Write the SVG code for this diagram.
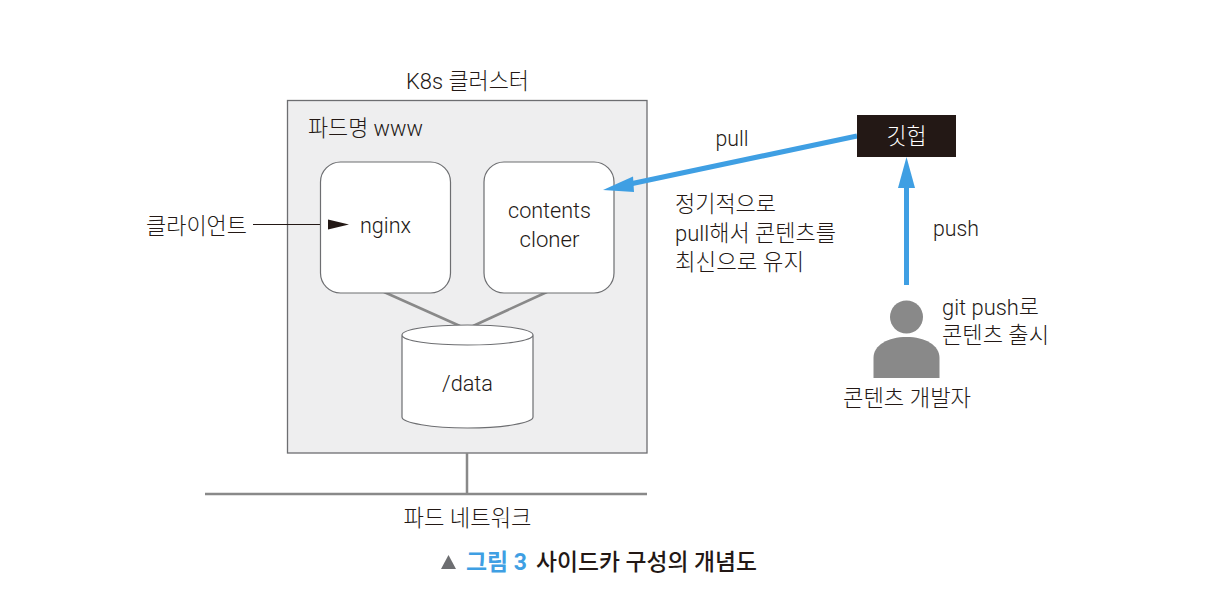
<svg xmlns="http://www.w3.org/2000/svg" width="1232" height="616" viewBox="0 0 1232 616">
<defs>
<style>
text{font-family:Roboto,"Noto Sans CJK KR",sans-serif;font-size:22.500px;font-weight:300;fill:#231815}
.box{fill:#fff;stroke:#6d6e71;stroke-width:1.200}
.gl{stroke:#898989;stroke-width:2.500;fill:none}
.bl{stroke:#3f9fe3;stroke-width:5;fill:none}
.cap{font-size:23px;font-weight:500}
</style>
</defs>
<rect width="1232" height="616" fill="#fff"/>
<g id="cluster">
<rect x="287.500" y="100.500" width="359.500" height="352.500" fill="#eeeeef" stroke="#6d6e71" stroke-width="1.300"/>
<text x="467.500" y="89" text-anchor="middle" textLength="123" lengthAdjust="spacingAndGlyphs">K8s 클러스터</text>
<text x="308" y="136" textLength="115" lengthAdjust="spacingAndGlyphs">파드명 www</text>
</g>
<g id="connectors">
<path class="gl" d="M384 292L460 326M547 292L473 326"/>
<path class="gl" d="M467 453V494M205 494H647"/>
<path d="M253 224.500H330" stroke="#231815" stroke-width="1"/>
</g>
<g id="nginx">
<rect class="box" x="320.500" y="162" width="130" height="131" rx="20"/>
<text x="385.500" y="233" text-anchor="middle" textLength="51" lengthAdjust="spacingAndGlyphs">nginx</text>
</g>
<g id="cloner">
<rect class="box" x="484" y="162" width="130" height="131" rx="20"/>
<text x="549.500" y="218" text-anchor="middle" textLength="83" lengthAdjust="spacingAndGlyphs">contents</text>
<text x="549.500" y="247" text-anchor="middle" textLength="60" lengthAdjust="spacingAndGlyphs">cloner</text>
</g>
<g id="data">
<path class="box" d="M402 335V417C402 423 432 428 467.500 428C503 428 533 423 533 417V335C533 329 503 325 467.500 325C432 325 402 329 402 335C402 341 432 345 467.500 345C503 345 533 341 533 335"/>
<text x="467.500" y="391" text-anchor="middle" textLength="51" lengthAdjust="spacingAndGlyphs">/data</text>
</g>
<g id="client">
<text x="196.500" y="234" text-anchor="middle" textLength="101" lengthAdjust="spacingAndGlyphs">클라이언트</text>
<path d="M328 219.500L349 224.500L328 229.500Z" fill="#231815"/>
</g>
<g id="arrows">
<path class="bl" d="M857 136L630 184"/>
<path d="M603 190L633 176.500L634 192Z" fill="#3f9fe3"/>
<path class="bl" d="M906.500 285V186"/>
<path d="M906.500 157L915 188H898Z" fill="#3f9fe3"/>
</g>
<g id="github">
<rect x="857" y="115" width="99" height="42" fill="#231815"/>
<text x="906.500" y="144" text-anchor="middle" style="fill:#fff" textLength="40" lengthAdjust="spacingAndGlyphs">깃헙</text>
</g>
<g id="developer">
<circle cx="906.500" cy="317" r="16.500" fill="#898989"/>
<path d="M873.500 378V358C873.500 345 888 337 906.500 337C925 337 939.500 345 939.500 358V378Z" fill="#898989"/>
<text x="907" y="406" text-anchor="middle" textLength="128" lengthAdjust="spacingAndGlyphs">콘텐츠 개발자</text>
</g>
<g id="labels">
<text x="732" y="146" text-anchor="middle" textLength="33" lengthAdjust="spacingAndGlyphs">pull</text>
<text x="675" y="212" textLength="101" lengthAdjust="spacingAndGlyphs">정기적으로</text>
<text x="675" y="241" textLength="161" lengthAdjust="spacingAndGlyphs">pull해서 콘텐츠를</text>
<text x="675" y="270" textLength="129" lengthAdjust="spacingAndGlyphs">최신으로 유지</text>
<text x="933" y="236" textLength="46" lengthAdjust="spacingAndGlyphs">push</text>
<text x="942" y="315" textLength="97" lengthAdjust="spacingAndGlyphs">git push로</text>
<text x="942" y="343" textLength="107" lengthAdjust="spacingAndGlyphs">콘텐츠 출시</text>
<text x="467.500" y="526" text-anchor="middle" textLength="128" lengthAdjust="spacingAndGlyphs">파드 네트워크</text>
</g>
<g id="caption">
<path d="M441 569L448.500 555L456 569Z" fill="#6d6e71"/>
<text class="cap" x="466" y="570" style="fill:#3f9fe3;font-weight:700" textLength="61" lengthAdjust="spacingAndGlyphs">그림 3</text>
<text class="cap" x="536" y="570" textLength="221" lengthAdjust="spacingAndGlyphs">사이드카 구성의 개념도</text>
</g>
</svg>
